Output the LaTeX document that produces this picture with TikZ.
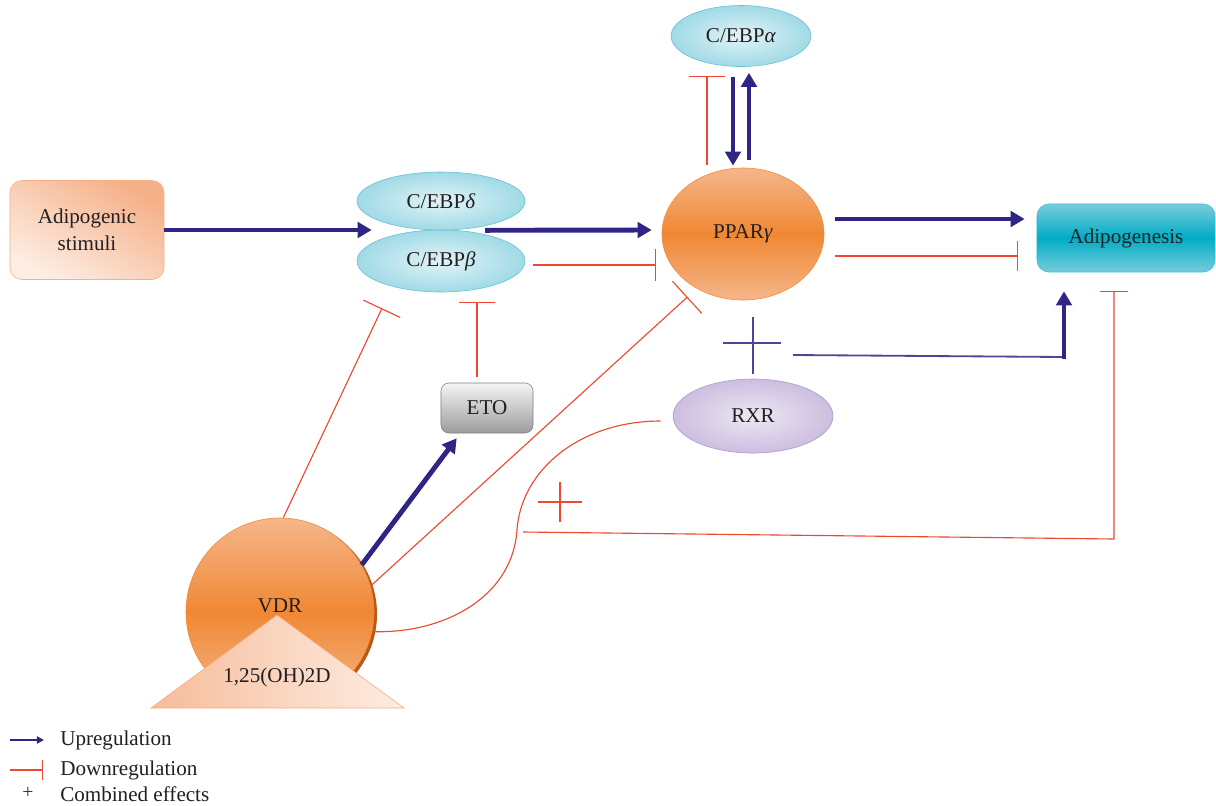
\documentclass[tikz,border=0pt]{standalone}
\usepackage{fontspec}
\setmainfont{Liberation Serif}
\usetikzlibrary{arrows.meta,calc,shapes.geometric}
\definecolor{navy}{RGB}{46,37,132}
\definecolor{inhib}{RGB}{238,72,48}
\definecolor{cyanedge}{RGB}{100,192,210}
\definecolor{cyanfill}{RGB}{160,218,230}
\definecolor{cyanlight}{RGB}{226,244,247}
\definecolor{orangemid}{RGB}{240,136,52}
\definecolor{orangelight}{RGB}{245,182,138}
\definecolor{orangedark}{RGB}{186,88,22}
\definecolor{peach}{RGB}{245,176,136}
\definecolor{peachlight}{RGB}{253,237,227}
\definecolor{adipoteal}{RGB}{0,172,198}
\definecolor{adipolight}{RGB}{120,204,220}
\definecolor{lavender}{RGB}{204,190,224}
\definecolor{lavlight}{RGB}{236,231,243}
\definecolor{lavedge}{RGB}{170,152,204}
\definecolor{etogray}{RGB}{156,156,156}
\definecolor{txtgray}{RGB}{35,31,32}

\begin{document}
\begin{tikzpicture}[x=0.025cm,y=-0.025cm,every node/.style={text=txtgray},
  upreg/.style={draw=navy,line width=3.5pt,-{Triangle[length=10pt,width=11pt]}},
  downreg/.style={draw=inhib,line width=0.8pt,-{Bar[width=#1]}},
  bubble/.style={ellipse,draw=cyanedge,inner color=cyanlight,outer color=cyanfill,minimum width=4.2cm},
  orangeball/.style={draw=orangemid,top color=orangelight,bottom color=orangelight,middle color=orangemid}]
\fontsize{15}{19.5}\selectfont
\useasboundingbox (0,0) rectangle (1216,805);
\node[draw=peach,rounded corners=0.3cm,top color=peach,bottom color=peachlight,shading angle=-30,minimum width=3.85cm,minimum height=2.475cm,align=center] (stim) at (87,230) {Adipogenic\\stimuli};
\node[bubble,minimum height=1.45cm] (cebpd) at (441,201) {C/EBP\textit{δ}};
\node[bubble,minimum height=1.55cm] (cebpb) at (441,261) {C/EBP\textit{β}};
\node[bubble,minimum width=3.5cm,minimum height=1.525cm] (cebpa) at (741,36) {C/EBP\textit{α}};
\node[ellipse,orangeball,minimum width=4.05cm,minimum height=3.3cm] (ppar) at (743,234) {PPAR\textit{γ}};
\node[draw=adipoteal!80,rounded corners=0.3cm,top color=adipolight,bottom color=adipolight,middle color=adipoteal,minimum width=4.45cm,minimum height=1.7cm] (adipo) at (1126,238) {Adipogenesis};
\node[ellipse,draw=lavedge,inner color=lavlight,outer color=lavender,minimum width=4cm,minimum height=1.85cm] (rxr) at (753,416) {RXR};
\node[draw=gray,rounded corners=0.2cm,top color=white!92!gray,bottom color=etogray,minimum width=2.3cm,minimum height=1.25cm] (eto) at (487,408) {ETO};
\fill[orangedark] (283,614) circle[radius=2.35cm];
\node[circle,orangeball,minimum size=4.7cm] (vdr) at (280,612) {};
\node (vdrtxt) at (280,606) {VDR};
\path[draw=peach!90!orangemid,left color=peach!85!white,right color=peachlight] (277,615) -- (404,708) -- (151,708) -- cycle;
\node (lig) at (277,677) {1,25(OH)2D};
\path[upreg] (stim.east) -- ($(stim.east -| cebpd.west)+(15,0)$);
\path[upreg] ($(cebpd.south)+(44,0)$) -- ($(ppar.west)+(-10,-4)$);
\path[downreg=23pt] ($(cebpb.east)+(8,4)$) -- ($(ppar.west)+(-6,31)$);
\path[upreg] ($(cebpa.south)+(-8,10)$) -- ($(ppar.north)+(-10,-2)$);
\path[upreg] ($(ppar.north)+(6,-8)$) -- ($(cebpa.south)+(8,6)$);
\path[downreg=26pt] ($(ppar.north)+(-36,-3)$) -- ($(cebpa.south)+(-34,9)$);
\path[upreg] ($(ppar.east)+(11,-15)$) -- ($(adipo.west)+(-12,-19)$);
\path[downreg=22pt] ($(ppar.east)+(11,22)$) -- ($(adipo.west)+(-19,18)$);
\path[downreg=29pt] (vdr.88) -- ($(cebpb.south)+(-59,16)$);
\path[downreg=31pt] (vdr.16) -- ($(ppar.south west)+(2,16)$);
\path[upreg] (vdr.30) -- ($(eto.south west)+(16,5)$);
\path[downreg=25pt] ($(eto.north)+(-10,-6)$) -- ($(cebpb.south)+(36,10)$);
\path[draw=inhib,line width=0.8pt] ($(rxr.west)+(-12,5)$) .. controls (580,421) and (521,470) .. (517,530) .. controls (512,600) and (440,634) .. (vdr.-12);
\coordinate (redplus) at (560,502);
\path[draw=inhib,line width=0.8pt] ($(redplus)+(-22,0)$) -- ($(redplus)+(22,0)$) ($(redplus)+(0,-20)$) -- ($(redplus)+(0,20)$);
\coordinate (dwnstart) at (523,532);
\coordinate (dwncorner) at (1114,539);
\path[downreg=20pt] (dwnstart) -- (dwncorner) -- ($(adipo.south)+(-12,19)$);
\coordinate (combi) at (753,343);
\coordinate (combcorner) at (1064,357);
\path[draw=navy!85!white,line width=1pt] ($(combi)+(-30,0)$) -- ($(combi)+(28,0)$) ($(combi)+(0,-26)$) -- ($(combi)+(0,31)$);
\path[draw=navy!85!white,line width=1.3pt] ($(combi)+(40,12)$) -- (combcorner);
\path[upreg,line width=3pt] ($(combcorner)+(0,1.5)$) -- ($(adipo.south)+(-62,19)$);
\node[anchor=west] (uptxt) at (53,740) {Upregulation};
\node[anchor=west] (downtxt) at (53,770) {Downregulation};
\node[anchor=west] (combtxt) at (53,794) {Combined effects};
\path[draw=navy,line width=1.3pt,-{Triangle[length=5pt,width=5pt]}] ($(uptxt.west)+(-43,0)$) -- ($(uptxt.west)+(-9,0)$);
\path[draw=inhib,line width=1pt,-{Bar[width=14pt]}] ($(downtxt.west)+(-43,0)$) -- ($(downtxt.west)+(-10,0)$);
\node[text=navy,font=\fontsize{14}{16}\selectfont] (plussym) at (28,793) {+};
\end{tikzpicture}
\end{document}
